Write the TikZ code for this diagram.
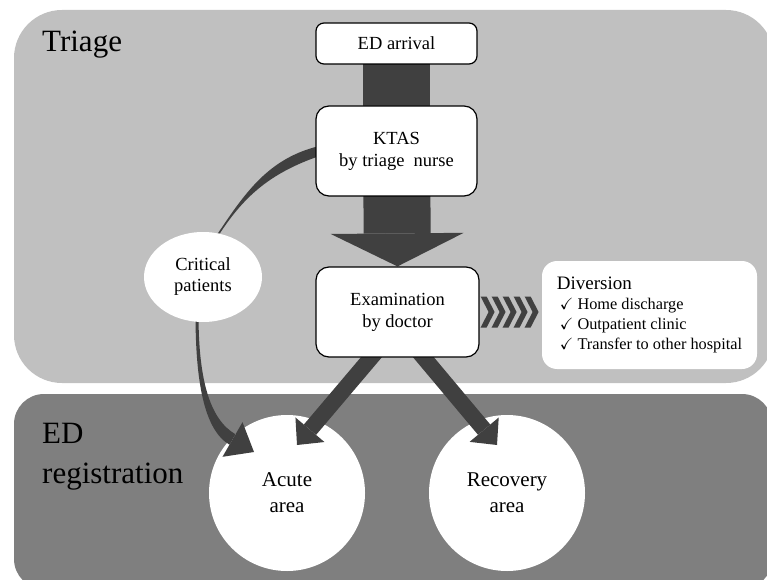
\documentclass[tikz,border=0pt]{standalone}
\usepackage{amssymb}
\usepackage{fontspec}
\setmainfont{Liberation Serif}
\usetikzlibrary{shapes.geometric}
\usetikzlibrary{arrows.meta}
\usetikzlibrary{calc}
\definecolor{triagebg}{HTML}{C0C0C0}
\definecolor{regbg}{HTML}{7F7F7F}
\definecolor{arrdark}{HTML}{404040}
\pgfdeclarelayer{back}
\pgfdeclarelayer{mid}
\pgfsetlayers{back,mid,main}
\tikzset{flowp/.style={
  x=1pt,
  y=1pt
}}
\tikzset{flowbox/.style={
  draw,
  line width=1.2pt,
  fill=white,
  shape=rectangle,
  rounded corners=13pt,
  inner sep=0pt,
  align=center,
  font=\fontsize{18.5}{22}\selectfont
}}
\tikzset{critnode/.style={
  fill=white,
  shape=ellipse,
  minimum width=118pt,
  minimum height=90pt,
  inner sep=0pt,
  align=center,
  font=\fontsize{18.5}{21}\selectfont
}}
\tikzset{areanode/.style={
  fill=white,
  shape=circle,
  minimum size=156pt,
  inner sep=0pt,
  align=center,
  font=\fontsize{21}{26}\selectfont
}}
\tikzset{divbox/.style={
  fill=white,
  shape=rectangle,
  rounded corners=15pt,
  minimum width=215pt,
  minimum height=108pt,
  inner sep=0pt,
  align=left,
  font=\fontsize{16.3}{20}\selectfont
}}
\tikzset{zonelbl/.style={
  anchor=base west,
  inner sep=0pt,
  font=\fontsize{31}{40}\selectfont
}}
\tikzset{arrfill/.style={fill=arrdark}}
\tikzset{shaftline/.style={draw=arrdark,line width=67pt}}
\tikzset{arealine/.style={
  draw=arrdark,
  line width=16pt,
  -{Triangle[width=38pt,length=20pt,line width=0pt]}
}}
\begin{document}
\begin{tikzpicture}[flowp]
  \useasboundingbox (0,0) rectangle (767,579);
  % Zones and areas
  \begin{pgfonlayer}{back}
    \fill[triagebg,rounded corners=48pt] (14,196) rectangle (774,569);
    \fill[regbg,rounded corners=30pt] (14,-10) rectangle (772,185);
    \node[zonelbl] (triagelbl) at (42,527) {Triage};
    \node[zonelbl,align=left] (reglbl) at (42,96) {ED\\registration};
    \node[areanode] (acute) at (287,86) {Acute\\area};
    \node[areanode] (recovery) at (507,86) {Recovery\\area};
  \end{pgfonlayer}

  % Boxes
  \node[flowbox,rounded corners=8pt,minimum width=161pt,minimum height=41pt]
    (arrival) at (396.5,535.5) {ED arrival};
  \node[flowbox,minimum width=161pt,minimum height=90pt]
    (ktas) at (396.5,428) {KTAS\\by triage\ \ nurse};
  \node[flowbox,minimum width=163pt,minimum height=90pt]
    (exam) at (397.5,267) {Examination\\by doctor};
  \node[critnode] (crit) at (203,302) {Critical\\patients};
  \node[divbox] (divert) at (649.5,264)
    {{\fontsize{19}{21}\selectfont Diversion}\\
     \hspace{3pt}$\checkmark$\ Home discharge\\
     \hspace{3pt}$\checkmark$\ Outpatient clinic\\
     \hspace{3pt}$\checkmark$\ Transfer to other hospital};

  \begin{pgfonlayer}{mid}
    % Main flow
    \draw[shaftline] (arrival.center) -- (ktas.center);
    \draw[shaftline,-{Triangle[width=133pt,length=33pt,line width=0pt]}]
      (ktas.center) -- (exam.north);

    % Critical patients bypass
    \fill[arrfill] ([xshift=4pt,yshift=5pt]ktas.west)
      .. controls +(-50,-12) and +(28,42) .. ([xshift=-1pt]crit.70)
      -- ([xshift=1pt]crit.70)
      .. controls +(26,40) and +(-46,-16) .. ([xshift=4pt,yshift=-5pt]ktas.west)
      -- cycle;
    \coordinate (critEnd) at (232.5,139.5);
    \fill[arrfill] ([xshift=-7.5pt,yshift=8pt]crit.south)
      .. controls +(0,-65) and +(-26,15) .. ($(critEnd)+(-3,-5.2)$)
      -- ($(critEnd)+(3,5.2)$)
      .. controls +(-26,15) and +(0,-65) .. ([xshift=-4.5pt,yshift=8pt]crit.south)
      -- cycle;
    \fill[arrfill] ($(critEnd)+(10,17.3)$) -- ($(critEnd)+(21.5,-12.5)$)
      -- ($(critEnd)+(-10,-17.3)$) -- cycle;

    % Diversion chevrons
    \foreach \i in {0,...,4}
      \fill[arrfill] ($(exam.east)+(1+11*\i,15.5)$) -- ++(6,0) -- ++(8,-15.5)
        -- ++(-8,-15.5) -- ++(-6,0) -- ++(8,15.5) -- cycle;

    % To the areas
    \coordinate (acuteIn) at ($(acute.center)+(10,48)$);
    \coordinate (recoveryIn) at ($(recovery.center)+(-10,48)$);
    \draw[arealine] ([xshift=-12pt,yshift=17pt]exam.south) -- (acuteIn);
    \draw[arealine] ([xshift=12pt,yshift=17pt]exam.south) -- (recoveryIn);
  \end{pgfonlayer}
\end{tikzpicture}
\end{document}
